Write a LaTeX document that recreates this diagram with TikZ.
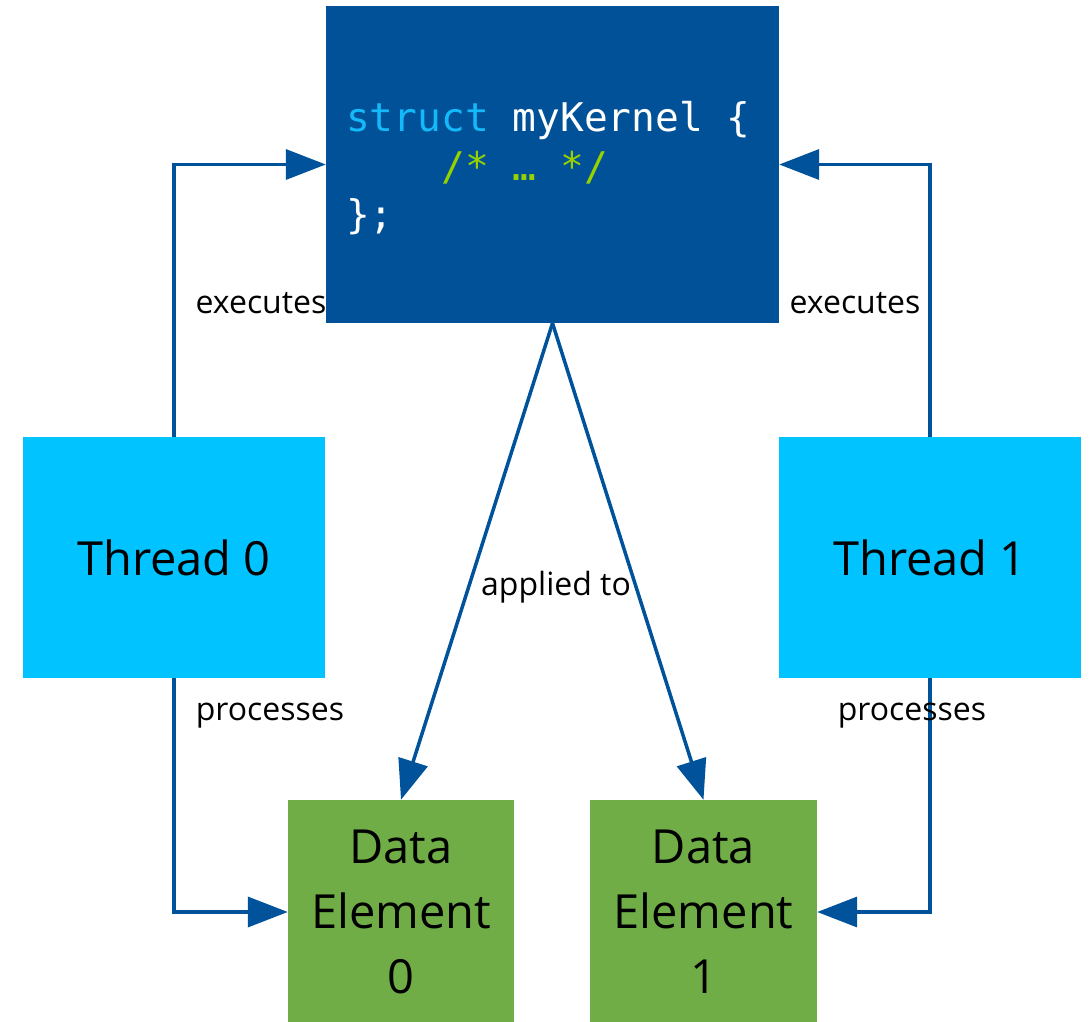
\documentclass[tikz,border=0pt]{standalone}
\usepackage{fontspec}
\setmainfont{Open Sans}
\setmonofont{DejaVu Sans Mono}
\usetikzlibrary{arrows.meta}
\definecolor{kblue}{RGB}{0,81,152}
\definecolor{lineblue}{RGB}{0,83,155}
\definecolor{tcyan}{RGB}{0,195,255}
\definecolor{dgreen}{RGB}{112,173,71}
\definecolor{kwcyan}{RGB}{20,185,250}
\definecolor{cmgreen}{RGB}{150,210,0}
\begin{document}
\begin{tikzpicture}[x=1pt,y=-1pt,
  box/.style={draw=none, inner sep=0pt, align=center, text=black},
  conn/.style={draw=lineblue, line width=3.5pt, -{Triangle[length=40pt,width=30pt]}},
  lbl/.style={font=\fontsize{32}{38}\selectfont, text=black, inner sep=0pt},
  big/.style={font=\fontsize{47}{65}\selectfont},
  code/.style={font=\ttfamily\fontsize{39.5}{48}\selectfont, inner sep=0pt, anchor=base west}]
\useasboundingbox (0,0) rectangle (1090,1022);
\node[box, fill=kblue, minimum width=453pt, minimum height=317pt] (kernel) at (552.5,164.5) {};
\node[box, big, fill=tcyan, minimum width=302pt, minimum height=241pt] (t0) at (174,557.5) {Thread 0};
\node[box, big, fill=tcyan, minimum width=302pt, minimum height=241pt] (t1) at (930,557.5) {Thread 1};
\node[box, big, fill=dgreen, minimum width=226pt, minimum height=224pt] (d0) at (401,912) {Data\\Element\\0};
\node[box, big, fill=dgreen, minimum width=227pt, minimum height=224pt] (d1) at (703.5,912) {Data\\Element\\1};
\node[code] (c1) at (346,132) {\textcolor{kwcyan}{struct}\ \textcolor{white}{myKernel\ \{}};
\node[code] (c2) at (346,180) {\phantom{xxxx}\textcolor{cmgreen}{/*\ …\ */}};
\node[code, text=white] (c3) at (346,228) {\};};
\draw[conn] (t0.north) |- (kernel.west);
\draw[conn] (t1.north) |- (kernel.east);
\draw[conn] (t0.south) |- (d0.west);
\draw[conn] (t1.south) |- (d1.east);
\draw[conn] (kernel.south) -- (d0.north);
\draw[conn] (kernel.south) -- (d1.north);
\node[lbl] (l1) at (261,303) {executes};
\node[lbl] (l2) at (855,303) {executes};
\node[lbl] (l3) at (270,716) {processes};
\node[lbl] (l4) at (912,716) {processes};
\node[lbl] (l5) at (556,587) {applied to};
\end{tikzpicture}
\end{document}
